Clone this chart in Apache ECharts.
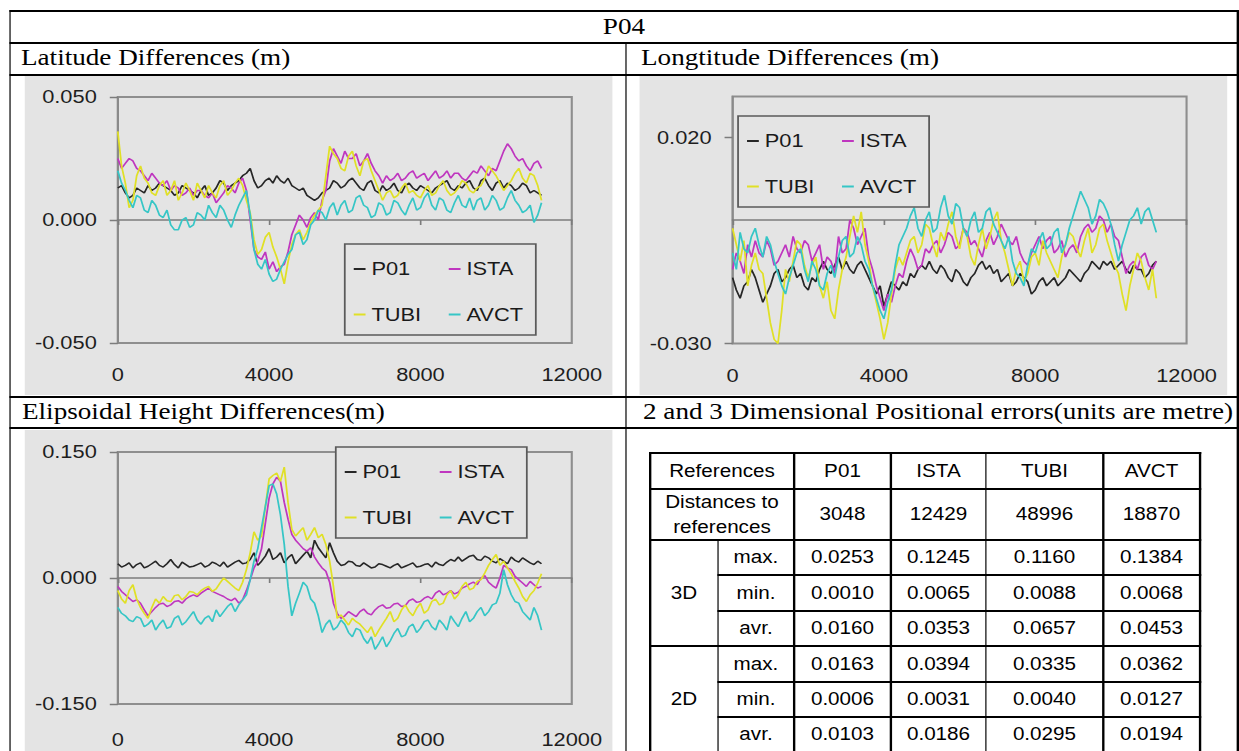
<!DOCTYPE html>
<html><head><meta charset="utf-8">
<script src="https://cdn.jsdelivr.net/npm/echarts@6/dist/echarts.min.js"></script>
<style>
html,body{margin:0;padding:0;background:#fff;width:1239px;height:751px;overflow:hidden;}
#page{position:absolute;left:0;top:0;height:751px;transform-origin:0 0;}
.ln{position:absolute;background:#000;}
.cap{position:absolute;font-family:'Liberation Serif','Times New Roman',serif;font-size:23px;line-height:23px;height:23px;white-space:nowrap;color:#000;}
.panel{position:absolute;background:#e4e4e4;}
.cell{position:absolute;display:flex;align-items:center;justify-content:center;text-align:center;font-family:'Liberation Sans',Arial,sans-serif;font-size:17.5px;color:#000;white-space:nowrap;}
</style></head><body><div id="page"></div>
<script>
// ---------------- data ----------------
const xs = [0,100,200,300,400,500,600,700,800,900,
1000,1100,1200,1300,1400,1500,1600,1700,1800,1900,
2000,2100,2200,2300,2400,2500,2600,2700,2800,2900,
3000,3100,3200,3300,3400,3500,3600,3700,3800,3900,
4000,4100,4200,4300,4400,4500,4600,4700,4800,4900,
5000,5100,5200,5300,5400,5500,5600,5700,5800,5900,
6000,6100,6200,6300,6400,6500,6600,6700,6800,6900,
7000,7100,7200,7300,7400,7500,7600,7700,7800,7900,
8000,8100,8200,8300,8400,8500,8600,8700,8800,8900,
9000,9100,9200,9300,9400,9500,9600,9700,9800,9900,
10000,10100,10200,10300,10400,10500,10600,10700,10800,10900,
11000,11100,11200];
const seriesNames = ['P01','ISTA','TUBI','AVCT'];
const xTicks = [0,4000,8000,12000];

const latP01 = [.013,.014,.011,.009,.010,.013,.012,.011,.014,.012,
.013,.015,.014,.013,.012,.010,.011,.014,.013,.012,
.011,.009,.012,.014,.010,.011,.013,.016,.015,.012,
.014,.015,.016,.018,.019,.021,.016,.013,.014,.016,
.017,.015,.018,.016,.015,.017,.014,.013,.012,.013,
.010,.009,.008,.009,.011,.012,.013,.016,.015,.013,
.014,.016,.017,.015,.013,.012,.015,.016,.012,.011,
.014,.012,.013,.015,.012,.011,.014,.015,.013,.012,
.014,.013,.012,.011,.013,.014,.015,.016,.013,.012,
.014,.013,.015,.016,.013,.012,.016,.017,.014,.012,
.015,.016,.013,.015,.014,.012,.013,.015,.014,.011,
.012,.011,.010];
const latISTA = [.025,.021,.023,.025,.024,.021,.020,.018,.016,.019,
.017,.015,.014,.016,.012,.014,.013,.010,.011,.013,
.010,.012,.012,.010,.009,.011,.007,.009,.011,.014,
.013,.011,.015,.017,.012,.000,-.012,-.015,-.016,-.013,
-.020,-.017,-.021,-.019,-.018,-.013,-.006,-.002,.002,.000,
-.003,.001,.003,.000,.008,.012,.024,.029,.026,.023,
.028,.025,.025,.027,.022,.024,.027,.023,.020,.018,
.015,.018,.016,.017,.019,.016,.017,.019,.020,.017,
.018,.019,.016,.018,.020,.017,.018,.020,.017,.019,
.019,.017,.016,.018,.020,.019,.022,.020,.018,.021,
.020,.024,.028,.031,.029,.026,.024,.025,.022,.020,
.023,.024,.021];
const latTUBI = [.036,.022,.015,.005,.008,.018,.022,.017,.015,.011,
.010,.014,.016,.010,.012,.016,.008,.011,.015,.012,
.008,.015,.012,.009,.014,.011,.009,.014,.016,.010,
.012,.015,.017,.014,.008,.003,-.008,-.014,-.012,-.007,
-.005,-.011,-.015,-.020,-.026,-.017,-.010,-.006,-.004,-.008,
-.005,-.001,.002,.004,.006,.018,.030,.027,.025,.021,
.020,.026,.028,.022,.018,.024,.025,.020,.016,.012,
.008,.011,.012,.009,.010,.013,.015,.011,.012,.010,
.009,.012,.014,.010,.011,.014,.016,.012,.010,.011,
.013,.016,.015,.012,.011,.013,.014,.017,.022,.020,
.018,.015,.012,.014,.016,.019,.021,.017,.015,.019,
.018,.014,.008];
const latAVCT = [.020,.015,.012,.008,.005,.010,.009,.004,.003,.008,
.006,.002,.001,.004,-.002,-.004,-.004,.000,.001,-.003,
-.002,.003,.002,.000,.006,.003,.001,.006,.004,.000,
-.003,.002,.006,.009,.012,.002,-.012,-.018,-.020,-.016,
-.022,-.025,-.024,-.020,-.017,-.014,-.012,-.006,-.005,-.010,
-.008,-.002,.000,.004,.003,.000,.005,.007,.002,.006,
.008,.003,.004,.009,.010,.006,.005,.001,.002,.007,
.006,.002,.003,.008,.007,.004,.002,.006,.009,.004,
.005,.009,.011,.006,.004,.009,.008,.004,.003,.007,
.010,.006,.005,.009,.004,.008,.009,.004,.006,.010,
.008,.004,.005,.009,.012,.008,.006,.003,.004,.006,
-.001,.002,.007];

const lonP01 = [-.014,-.017,-.019,-.016,-.015,-.012,-.014,-.017,-.020,-.018,
-.016,-.013,-.012,-.015,-.014,-.012,-.011,-.014,-.013,-.016,
-.017,-.014,-.015,-.012,-.010,-.012,-.013,-.011,-.009,-.012,
-.010,-.012,-.013,-.011,-.010,-.012,-.014,-.016,-.018,-.016,
-.021,-.018,-.015,-.016,-.017,-.015,-.016,-.013,-.014,-.012,
-.011,-.012,-.010,-.012,-.013,-.011,-.012,-.014,-.015,-.012,
-.013,-.015,-.016,-.014,-.013,-.011,-.010,-.012,-.011,-.013,
-.012,-.015,-.014,-.013,-.016,-.015,-.013,-.014,-.015,-.018,
-.017,-.015,-.014,-.016,-.015,-.014,-.016,-.015,-.014,-.012,
-.013,-.014,-.015,-.013,-.012,-.010,-.011,-.012,-.010,-.011,
-.010,-.012,-.011,-.010,-.012,-.013,-.011,-.012,-.012,-.014,
-.013,-.011,-.010];
const lonISTA = [-.012,-.008,-.010,-.013,-.006,-.009,-.005,-.008,-.009,-.005,
-.007,-.011,-.010,-.008,-.006,-.009,-.004,-.007,-.008,-.005,
-.006,-.010,-.008,-.006,-.012,-.009,-.010,-.013,-.004,-.008,
-.007,.000,-.002,-.006,-.004,-.002,-.009,-.012,-.016,-.019,
-.022,-.018,-.020,-.016,-.013,-.014,-.010,-.007,-.009,-.012,
-.011,-.007,-.008,-.006,-.005,-.008,-.006,-.003,-.004,-.007,
-.006,-.002,-.003,-.006,-.005,-.007,-.009,-.005,-.003,-.006,
-.004,-.001,-.003,-.005,-.006,-.004,-.008,-.010,-.011,-.008,
-.006,-.004,-.007,-.005,-.004,-.008,-.007,-.005,-.009,-.007,
-.006,-.008,-.004,-.002,-.001,-.003,-.002,.001,.000,-.003,
-.001,-.004,-.005,-.009,-.013,-.011,-.010,-.012,-.009,-.008,
-.011,-.012,-.010];
const lonTUBI = [-.002,-.006,-.010,-.005,-.016,-.011,-.008,-.012,-.013,-.019,
-.025,-.029,-.030,-.022,-.012,-.015,-.010,-.005,-.006,-.011,
-.014,-.011,-.009,-.016,-.019,-.015,-.022,-.024,-.017,-.012,
-.009,-.004,.001,-.003,.002,-.006,-.010,-.016,-.020,-.024,
-.029,-.025,-.018,-.012,-.009,-.011,-.008,-.005,-.004,-.008,
-.006,-.001,-.002,-.006,-.009,-.003,-.005,-.001,.002,-.004,
-.007,-.002,-.004,-.009,-.011,-.006,-.002,-.007,-.004,.000,
.002,-.005,-.008,-.012,-.016,-.012,-.010,-.015,-.013,-.009,
-.008,-.011,-.005,-.008,-.010,-.012,-.014,-.009,-.006,-.003,
-.004,-.007,-.009,-.005,-.002,-.008,-.006,-.002,-.001,-.005,
-.008,-.011,-.013,-.018,-.022,-.016,-.012,-.008,-.010,-.014,
-.017,-.012,-.019];
const lonAVCT = [-.008,-.012,-.003,-.007,-.008,-.004,-.002,-.006,-.009,-.004,
-.006,-.010,-.013,-.016,-.018,-.014,-.011,-.008,-.007,-.012,
-.015,-.010,-.012,-.016,-.017,-.013,-.011,-.014,-.009,-.005,
-.004,-.009,-.008,-.004,-.006,-.010,-.012,-.016,-.019,-.022,
-.024,-.020,-.017,-.011,-.006,-.004,-.002,.001,.003,-.002,
-.004,.000,.002,-.003,-.002,.003,.006,.001,-.001,.004,
.003,-.002,-.004,.000,.002,-.003,-.002,.002,.003,-.001,
-.003,-.005,-.007,-.004,-.010,-.013,-.014,-.016,-.011,-.007,
-.008,-.005,-.003,-.007,-.006,-.003,-.002,-.008,-.006,-.002,
.001,.004,.007,.005,.003,-.001,.001,.005,.004,.002,
-.001,-.006,-.010,-.006,-.003,.000,.001,.003,-.001,.002,
.003,.000,-.003];

const hgtP01 = [.017,.013,.015,.018,.012,.016,.018,.012,.014,.017,
.020,.015,.013,.017,.022,.016,.012,.019,.016,.013,
.014,.016,.018,.013,.015,.019,.017,.014,.019,.013,
.016,.019,.021,.017,.018,.022,.030,.015,.020,.026,
.035,.022,.025,.030,.018,.024,.028,.017,.022,.027,
.032,.024,.045,.036,.030,.024,.042,.030,.020,.015,
.016,.020,.019,.015,.014,.018,.015,.012,.013,.017,
.016,.014,.012,.015,.017,.012,.014,.016,.018,.013,
.014,.016,.017,.013,.019,.016,.015,.019,.022,.020,
.025,.020,.023,.026,.027,.022,.021,.026,.024,.020,
.018,.023,.020,.017,.025,.021,.019,.024,.021,.018,
.016,.020,.017];
const hgtISTA = [-.010,-.016,-.020,-.024,-.028,-.026,-.030,-.038,-.045,-.040,
-.035,-.031,-.030,-.034,-.032,-.028,-.027,-.030,-.025,-.022,
-.020,-.022,-.018,-.015,-.012,-.016,-.018,-.020,-.022,-.025,
-.027,-.024,-.030,-.026,-.015,-.002,.012,.020,.035,.065,
.095,.112,.120,.115,.090,.070,.052,.045,.040,.035,
.032,.036,.025,.018,.012,.008,-.005,-.030,-.042,-.048,
-.045,-.040,-.043,-.046,-.040,-.037,-.042,-.044,-.038,-.034,
-.032,-.036,-.035,-.031,-.030,-.034,-.033,-.027,-.025,-.029,
-.028,-.024,-.022,-.025,-.018,-.015,-.020,-.018,-.015,-.019,
-.017,-.012,-.010,-.007,-.005,-.008,.000,.003,-.005,-.009,
-.012,.000,.015,.012,.010,.002,-.002,-.006,-.010,-.004,
-.008,-.012,-.010];
const hgtTUBI = [-.015,-.025,-.030,-.015,-.008,-.025,-.035,-.042,-.048,-.035,
-.025,-.030,-.022,-.027,-.028,-.021,-.020,-.026,-.022,-.016,
-.017,-.020,-.015,-.012,-.010,-.016,-.013,-.006,.000,-.004,
-.008,-.012,-.015,-.005,.010,.030,.055,.045,.050,.085,
.118,.122,.125,.115,.132,.090,.058,.050,.055,.060,
.045,.052,.060,.048,.052,.040,.020,-.010,-.048,-.044,
-.050,-.056,-.048,-.052,-.055,-.060,-.065,-.058,-.070,-.062,
-.055,-.048,-.040,-.052,-.048,-.038,-.032,-.040,-.045,-.036,
-.030,-.042,-.038,-.028,-.025,-.032,-.030,-.020,-.015,-.025,
-.020,-.010,-.005,-.014,-.012,-.004,-.002,.006,.015,.022,
.028,.015,.020,.012,.005,-.004,-.012,-.022,-.028,-.020,
-.015,-.006,.005];
const hgtAVCT = [-.035,-.042,-.045,-.050,-.052,-.046,-.048,-.058,-.055,-.050,
-.062,-.055,-.050,-.060,-.058,-.048,-.045,-.056,-.052,-.046,
-.040,-.050,-.055,-.048,-.045,-.052,-.038,-.046,-.040,-.034,
-.030,-.040,-.032,-.026,-.020,-.002,.020,.035,.060,.085,
.110,.112,.100,.075,.040,-.010,-.045,-.030,-.018,-.005,
-.010,-.025,-.030,-.045,-.065,-.055,-.050,-.062,-.058,-.050,
-.055,-.065,-.070,-.060,-.062,-.072,-.078,-.070,-.085,-.078,
-.070,-.082,-.075,-.066,-.060,-.070,-.068,-.058,-.055,-.065,
-.060,-.052,-.050,-.058,-.062,-.050,-.055,-.062,-.045,-.052,
-.058,-.048,-.040,-.052,-.048,-.040,-.035,-.045,-.040,-.032,
-.030,-.018,.010,-.008,-.020,-.028,-.030,-.040,-.045,-.050,
-.035,-.045,-.062];

const latTicks = [-0.05,0,0.05];
const lonTicks = [-0.03,0.02];
const hgtTicks = [-0.15,0,0.15];

const tableHeader = ['References','P01','ISTA','TUBI','AVCT'];
const distLabel = 'Distances to<br>references';
const distances = [3048,12429,48996,18870];
const statLabels = ['max.','min.','avr.'];
const max3D = [0.0253,0.1245,0.1160,0.1384];
const min3D = [0.0010,0.0065,0.0088,0.0068];
const avr3D = [0.0160,0.0353,0.0657,0.0453];
const max2D = [0.0163,0.0394,0.0335,0.0362];
const min2D = [0.0006,0.0031,0.0040,0.0127];
const avr2D = [0.0103,0.0186,0.0295,0.0194];

// ---------------- layout ----------------
const S = 1.18; // horizontal stretch of the original page
const page = document.getElementById('page');
page.style.width = (1239 / S) + 'px';
page.style.transform = 'scaleX(' + S + ')';

function box(cls, x, y, w, h) {
  const d = document.createElement('div');
  d.className = cls;
  d.style.left = (x / S) + 'px';
  d.style.top = y + 'px';
  d.style.width = (w / S) + 'px';
  d.style.height = h + 'px';
  page.appendChild(d);
  return d;
}
function hline(y, x1, x2) { box('ln', x1 - 1, y - 1, x2 - x1 + 2, 2); }
function vline(x, y1, y2) { box('ln', x - 1, y1 - 1, 2, y2 - y1 + 2); }
function cap(text, x, baseline, w, align) {
  const d = box('cap', x, baseline - 19.3, w, 23);
  d.textContent = text;
  d.style.textAlign = align || 'left';
}

// outer frame
[11, 43, 75, 397, 428].forEach(y => hline(y, 10, 1238));
vline(10, 11, 752); vline(1238, 11, 752); vline(626, 43, 752);

cap('P04', 10, 34.5, 1228, 'center');
cap('Latitude Differences (m)', 21, 65.7, 590);
cap('Longtitude Differences (m)', 641, 65.7, 590);
cap('Elipsoidal Height Differences(m)', 22, 419.5, 590);
cap('2 and 3 Dimensional Positional errors(units are metre)', 643, 419.5, 595);

// ---------------- charts ----------------
const FONT = "'Liberation Sans', Arial, Helvetica, sans-serif";
const COLORS = { P01: '#262626', ISTA: '#bf36bf', TUBI: '#e0e026', AVCT: '#36c6c6' };

function makeChart(el, cfg) {
  const ch = echarts.init(el, null, { renderer: 'svg' });
  const sers = seriesNames.map((n, i) => ({
    name: n, type: 'line', xAxisIndex: 0, yAxisIndex: 0,
    showSymbol: false, symbol: 'none', silent: true,
    data: xs.map((x, j) => [x, cfg.series[i][j]]),
    lineStyle: { width: 1.5, color: COLORS[n] },
    itemStyle: { color: COLORS[n] }
  }));
  const ticks = cfg.yTicks;
  const isTick = v => ticks.some(t => Math.abs(t - v) < 1e-9);
  const fmt = v => isTick(v) ? (Math.abs(v) < 1e-9 ? 0 : v).toFixed(3) : '';
  const axisGrey = '#7c7c7c';
  ch.setOption({
    animation: false,
    textStyle: { fontFamily: FONT },
    grid: {
      left: 93 / S, top: cfg.gridTop, width: 454 / S, height: cfg.gridH,
      show: true, borderColor: '#8e8e8e', borderWidth: 1.8, backgroundColor: 'transparent'
    },
    legend: {
      data: seriesNames, selectedMode: false,
      left: cfg.legLeft / S, top: cfg.legTop,
      orient: 'horizontal', width: 148,
      itemGap: 13.5, itemWidth: 10, itemHeight: 2, icon: 'rect',
      padding: [9, 6.8, 4.5, 7.6],
      borderColor: '#5a5a5a', borderWidth: 1.5, backgroundColor: '#e4e4e4',
      textStyle: { fontFamily: FONT, fontSize: 18.5, color: '#1a1a1a', width: 52, lineHeight: 32 }
    },
    xAxis: [
      {
        type: 'value', min: 0, max: 12000, interval: 4000, position: 'bottom',
        axisLine: { show: true, onZero: true, lineStyle: { color: axisGrey, width: 1.6 } },
        axisTick: { show: true, length: 5, lineStyle: { color: axisGrey, width: 1.4 } },
        axisLabel: { show: false }, splitLine: { show: false }
      },
      {
        type: 'value', min: 0, max: 12000, interval: 4000, position: 'bottom',
        axisLine: { show: false, onZero: false }, axisTick: { show: false },
        axisLabel: {
          show: true, margin: cfg.xMargin, fontSize: 18.5, color: '#1e1e1e', fontFamily: FONT,
          formatter: v => String(v), customValues: xTicks
        },
        splitLine: { show: false }
      }
    ],
    yAxis: {
      type: 'value', min: cfg.yMin, max: cfg.yMax, interval: cfg.yInterval,
      axisLine: { show: true, onZero: false, lineStyle: { color: '#8a8a8a', width: 1.6 } },
      axisTick: { show: true, length: 8 / S, lineStyle: { color: axisGrey, width: 1.4 }, customValues: ticks },
      axisLabel: { margin: 21 / S, fontSize: 18.5, color: '#1e1e1e', fontFamily: FONT, formatter: fmt, customValues: ticks },
      splitLine: { show: false }
    },
    series: sers
  });
  return ch;
}

const pA = box('panel', 25, 76, 587, 319);
const pB = box('panel', 640, 76, 587, 319);
const pC = box('panel', 25, 430, 587, 321);

makeChart(pA, {
  series: [latP01, latISTA, latTUBI, latAVCT], yMin: -0.05, yMax: 0.05, yInterval: 0.05, yTicks: latTicks,
  gridTop: 21, gridH: 246, xMargin: 22.5, legLeft: 320, legTop: 168
});
makeChart(pB, {
  series: [lonP01, lonISTA, lonTUBI, lonAVCT], yMin: -0.03, yMax: 0.03, yInterval: 0.05, yTicks: lonTicks,
  gridTop: 20.5, gridH: 247, xMargin: 22.5, legLeft: 98.5, legTop: 40
});
makeChart(pC, {
  series: [hgtP01, hgtISTA, hgtTUBI, hgtAVCT], yMin: -0.15, yMax: 0.15, yInterval: 0.15, yTicks: hgtTicks,
  gridTop: 22, gridH: 252, xMargin: 26.5, legLeft: 311, legTop: 17
});

// ---------------- table ----------------
const rowsY = [453, 489, 540, 575, 611, 646, 682, 717, 752];
const colsX = [650, 718, 794, 891, 986, 1103, 1200];
[0, 1, 2, 5, 8].forEach(i => hline(rowsY[i], colsX[0], colsX[6]));
[3, 4, 6, 7].forEach(i => hline(rowsY[i], colsX[1], colsX[6]));
[0, 2, 3, 4, 5, 6].forEach(i => vline(colsX[i], rowsY[0], rowsY[8]));
vline(colsX[1], rowsY[2], rowsY[8]);

function cell(html, c0, c1, r0, r1, lh) {
  const d = box('cell', colsX[c0], rowsY[r0], colsX[c1] - colsX[c0], rowsY[r1] - rowsY[r0]);
  d.innerHTML = lh ? '<div style="line-height:' + lh + 'px">' + html + '</div>' : html;
}
cell(tableHeader[0], 0, 2, 0, 1);
for (let k = 1; k < 5; k++) cell(tableHeader[k], k + 1, k + 2, 0, 1);
cell(distLabel, 0, 2, 1, 2, 25);
distances.forEach((v, k) => cell(String(v), k + 2, k + 3, 1, 2));
cell('3D', 0, 1, 2, 5);
cell('2D', 0, 1, 5, 8);
const blocks = [[max3D, min3D, avr3D], [max2D, min2D, avr2D]];
blocks.forEach((blk, b) => {
  blk.forEach((arr, s) => {
    const r = 2 + b * 3 + s;
    cell(statLabels[s], 1, 2, r, r + 1);
    arr.forEach((v, k) => cell(v.toFixed(4), k + 2, k + 3, r, r + 1));
  });
});
</script></body></html>
